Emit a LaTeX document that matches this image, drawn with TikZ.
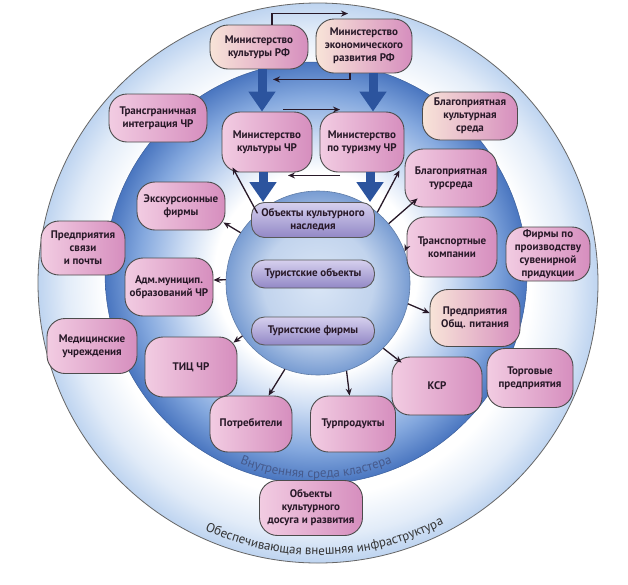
\documentclass[tikz,border=0pt]{standalone}
\usepackage{fontspec}
\setmainfont{PT Sans}
\usetikzlibrary{arrows.meta,decorations.text}

\definecolor{inkdark}{RGB}{40,25,40}
\definecolor{outerblue}{RGB}{190,212,240}
\definecolor{ringdark}{RGB}{74,118,192}
\definecolor{ringmid}{RGB}{132,168,222}
\definecolor{ringlight}{RGB}{204,220,243}
\definecolor{sphlight}{RGB}{218,230,246}
\definecolor{sphedge}{RGB}{120,156,210}
\definecolor{pinkhi}{RGB}{242,204,226}
\definecolor{pinklo}{RGB}{214,142,190}
\definecolor{peachhi}{RGB}{248,228,216}
\definecolor{pillhi}{RGB}{214,208,238}
\definecolor{pilllo}{RGB}{146,136,198}
\definecolor{arrowblue}{RGB}{44,84,158}
\definecolor{ringtext}{RGB}{70,90,140}

\pgfdeclareradialshading{outerfill}{\pgfpoint{0bp}{0bp}}{color(0bp)=(white); color(19bp)=(white); color(22.5bp)=(outerblue!45!white); color(25bp)=(outerblue); color(50bp)=(outerblue)}
\pgfdeclareradialshading{innerfill}{\pgfpoint{0bp}{0bp}}{color(0bp)=(white); color(12bp)=(white); color(16bp)=(ringlight); color(21bp)=(ringmid); color(25bp)=(ringdark); color(50bp)=(ringdark)}
\pgfdeclareradialshading{spherefill}{\pgfpoint{0bp}{0bp}}{color(0bp)=(sphlight); color(15bp)=(sphlight!75!sphedge); color(25bp)=(sphedge); color(50bp)=(sphedge)}

\begin{document}
\begin{tikzpicture}[x=1pt, y=-1pt,
    orgbox/.style={draw=black!70, line width=0.9pt, rounded corners=18pt, align=center,
        text=inkdark, font=\bfseries\fontsize{11}{13}\selectfont, inner sep=2pt,
        left color=pinkhi, right color=pinklo, minimum width=88pt, minimum height=56pt},
    peach/.style={left color=peachhi, right color=pinklo},
    pillbox/.style={draw=black!65, line width=0.9pt, rounded corners=13pt, align=center,
        text=inkdark, font=\bfseries\fontsize{11}{13}\selectfont, inner sep=2pt,
        top color=pillhi, bottom color=pilllo, minimum width=123pt, minimum height=28pt},
    thinarr/.style={-{Stealth[length=7pt,width=6pt]}, line width=1.3pt, draw=inkdark},
    bigarr/.style={-{Triangle[length=20pt,width=26pt]}, line width=9pt, draw=arrowblue}]
    \useasboundingbox (0,0) rectangle (628,584);
    \fill[white] (0,0) rectangle (628,584);

    % rings of the cluster
    \path[shading=outerfill, draw=black!60, line width=0.8pt] (318,283) circle[radius=280];
    \path[shading=innerfill, draw=ringdark!80!black, line width=0.5pt] (316,273) circle[radius=211];
    \path[decorate, decoration={text along path, text align=center,
        text={|\fontsize{13}{15}\selectfont\color{ringtext}|Внутренняя среда кластера}}]
        (316,273) ++(127:205) arc[start angle=127, end angle=53, radius=205];
    \path[decorate, decoration={text along path, text align=center,
        text={|\fontsize{13}{15}\selectfont\color{black!80}|Обеспечивающая внешняя инфраструктура}}]
        (318,283) ++(119:272) arc[start angle=119, end angle=58, radius=272];

    % core of the cluster
    \node[circle, minimum size=184pt, shading=spherefill, draw=sphedge!80!black, line width=0.6pt] (core) at (318,283) {};
    \node[pillbox, minimum height=35pt] (obj1) at (313,220) {Объекты культурного\\наследия};
    \node[pillbox] (obj2) at (313,274) {Туристские объекты};
    \node[pillbox] (obj3) at (313,331) {Туристские фирмы};

    % federal and regional bodies
    \node[orgbox, peach, minimum width=98pt, minimum height=44pt] (kulRF) at (259,47) {Министерство\\культуры РФ};
    \node[orgbox, peach, minimum width=96pt, minimum height=54pt] (ekRF) at (364,46) {Министерство\\экономического\\развития РФ};
    \node[orgbox, minimum width=90pt, minimum height=60pt] (kulChR) at (267,142) {Министерство\\культуры ЧР};
    \node[orgbox, minimum width=84pt, minimum height=60pt] (turChR) at (362,142) {Министерство\\по туризму ЧР};

    % inner ring
    \node[orgbox, minimum width=92pt, minimum height=58pt] (blagTur) at (451,178) {Благоприятная\\турсреда};
    \node[orgbox, minimum width=88pt, minimum height=48pt] (exc) at (181,206) {Экскурсионные\\фирмы};
    \node[orgbox, minimum width=90pt, minimum height=60pt] (trans) at (452,247) {Транспортные\\компании};
    \node[orgbox, minimum width=88pt, minimum height=58pt] (adm) at (169,287) {Адм.муницип.\\образований ЧР};
    \node[orgbox, peach, minimum width=90pt, minimum height=57pt] (pitan) at (475,318) {Предприятия\\Общ. питания};
    \node[orgbox, minimum width=92pt, minimum height=60pt] (tic) at (191,367) {ТИЦ ЧР};
    \node[orgbox, minimum width=90pt, minimum height=58pt] (ksr) at (437,386) {КСР};
    \node[orgbox, minimum width=82pt, minimum height=56pt] (potr) at (251,424) {Потребители};
    \node[orgbox, minimum width=85pt, minimum height=56pt] (turp) at (353,424) {Турпродукты};

    % outer ring
    \node[orgbox, minimum width=98pt, minimum height=48pt] (transgr) at (158,118) {Трансграничная\\интеграция ЧР};
    \node[orgbox, peach, minimum width=95pt, minimum height=48pt] (blagKult) at (470,116) {Благоприятная\\культурная\\среда};
    \node[orgbox, minimum width=84pt, minimum height=54pt] (svyaz) at (83,248) {Предприятия\\связи\\и почты};
    \node[orgbox, minimum width=84pt, minimum height=54pt] (suven) at (548,254) {Фирмы по\\производству\\сувенирной\\придукции};
    \node[orgbox, minimum width=90pt, minimum height=55pt] (med) at (92,346) {Медицинские\\учреждения};
    \node[orgbox, minimum width=86pt, minimum height=59pt] (torg) at (530,378) {Торговые\\предприятия};
    \node[orgbox, minimum width=103pt, minimum height=55pt] (dosug) at (311,508) {Объекты\\культурного\\досуга и развития};

    % links between ministries
    \draw[thinarr] ([xshift=13pt]kulRF.north) |- ([xshift=-16pt,yshift=5pt]ekRF.north);
    \draw[thinarr] ([xshift=-14pt]ekRF.south) |- ([xshift=14pt,yshift=-10pt]kulRF.south);
    \draw[bigarr] ([xshift=3pt]kulRF.south) -- ([xshift=3pt]kulRF.south |- kulChR.north);
    \draw[bigarr] ([xshift=9pt]ekRF.south) -- ([xshift=9pt]ekRF.south |- turChR.north);
    \draw[thinarr] ([xshift=16pt,yshift=2pt]kulChR.north) -- ([xshift=-22pt,yshift=2pt]turChR.north);
    \draw[thinarr] ([xshift=-22pt,yshift=-3pt]turChR.south) -- ([xshift=21pt,yshift=-3pt]kulChR.south);
    \draw[bigarr] ([xshift=-4pt]kulChR.south) -- ([xshift=-4pt]kulChR.south |- obj1.north);
    \draw[bigarr] ([xshift=8pt]turChR.south) -- ([xshift=8pt]turChR.south |- obj1.north);

    % links from the core
    \draw[thinarr] (core.131) -- ([xshift=11pt,yshift=5pt]kulChR.south west);
    \draw[thinarr] (core.50) -- ([xshift=-5pt,yshift=2pt]turChR.south east);
    \draw[thinarr] (core.40) -- ([xshift=13pt,yshift=9pt]blagTur.south west);
    \draw[thinarr] (trans.west) -- (core.20);
    \draw[thinarr] (core.-13) -- ([yshift=5pt]pitan.west);
    \draw[thinarr] (core.-45) -- ([xshift=10pt,yshift=-6pt]ksr.north west);
    \draw[thinarr] (core.-72) -- (turp);
    \draw[thinarr] (core.-111) -- (potr);
    \draw[thinarr] (core.215) -- ([xshift=-4pt,yshift=-6pt]tic.north east);
    \draw[thinarr] (core.178) -- ([yshift=7pt]adm.east);
    \draw[thinarr] (core.147) -- ([xshift=-2pt,yshift=8pt]exc.south east);
\end{tikzpicture}
\end{document}
